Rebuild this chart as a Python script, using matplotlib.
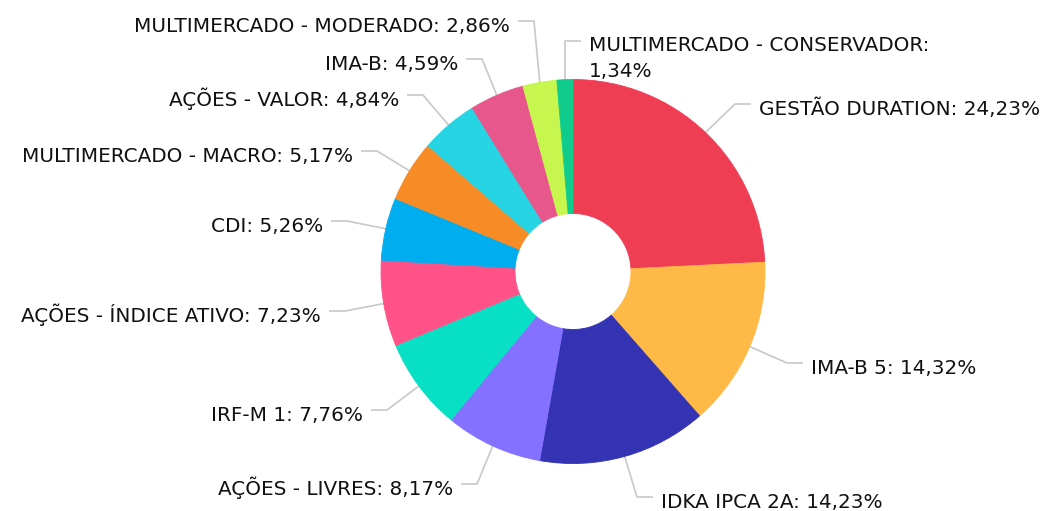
import matplotlib.pyplot as plt
import numpy as np

# slice names and shares (percent), clockwise from the top
names = ["GESTÃO DURATION", "IMA-B 5", "IDKA IPCA 2A", "AÇÕES - LIVRES", "IRF-M 1",
         "AÇÕES - ÍNDICE ATIVO", "CDI", "MULTIMERCADO - MACRO", "AÇÕES - VALOR",
         "IMA-B", "MULTIMERCADO - MODERADO", "MULTIMERCADO - CONSERVADOR"]
values = [24.23, 14.32, 14.23, 8.17, 7.76, 7.23, 5.26, 5.17, 4.84, 4.59, 2.86, 1.34]
colors = ["#EF3D54", "#FFB946", "#3333B3", "#8471FF", "#08E0C5", "#FF5289",
          "#00ADEF", "#F78B26", "#27D4E4", "#E8578C", "#C7F74F", "#10CC8C"]

# label layout in pixels (top-down): elbow x, elbow y, side (+1 right, -1 left)
elbow_x = [735, 787, 637, 477, 387, 345, 347, 377, 423, 482, 534, 565]
elbow_y = [104, 363, 497, 484, 410, 311, 221, 151, 95, 59, 21, 41]
side = [1, 1, 1, -1, -1, -1, -1, -1, -1, -1, -1, 1]

W, H = 1045, 511
cx, cy = 573, 271.5
R, r_in = 192, 58

fig = plt.figure(figsize=(W / 100, H / 100), dpi=100)
ax = fig.add_axes([0, 0, 1, 1])

wedges, _ = ax.pie(values, colors=colors, startangle=90, counterclock=False,
                   radius=R, center=(cx, H - cy),
                   wedgeprops=dict(width=R - r_in, linewidth=0.6))
for w, c in zip(wedges, colors):
    w.set_edgecolor(c)

frac = np.cumsum(values) - np.array(values) / 2
theta = np.radians(frac / sum(values) * 360)

for i, name in enumerate(names):
    x0 = cx + R * np.sin(theta[i])
    y0 = cy - R * np.cos(theta[i])
    ex, ey = elbow_x[i], elbow_y[i]
    hx = ex + side[i] * 16
    ax.plot([x0, ex, hx], [H - y0, H - ey, H - ey], color="#C8C8C8", lw=1.2,
            solid_capstyle="butt", zorder=0)
    tx = hx + side[i] * 8
    ha = "left" if side[i] > 0 else "right"
    pct = f"{values[i]:.2f}".replace(".", ",") + "%"
    if name == "MULTIMERCADO - CONSERVADOR":
        ax.text(tx, H - ey + 5, name + ":\n" + pct, ha=ha, va="top", fontsize=14.4,
                family="DejaVu Sans", color="#111111", linespacing=1.45)
    else:
        ax.text(tx, H - ey - 11, name + ": " + pct, ha=ha, va="baseline", fontsize=14.4,
                family="DejaVu Sans", color="#111111")

ax.set_xlim(0, W)
ax.set_ylim(0, H)
ax.set_aspect("equal")
ax.axis("off")

fig.savefig("out.png", dpi=100)
